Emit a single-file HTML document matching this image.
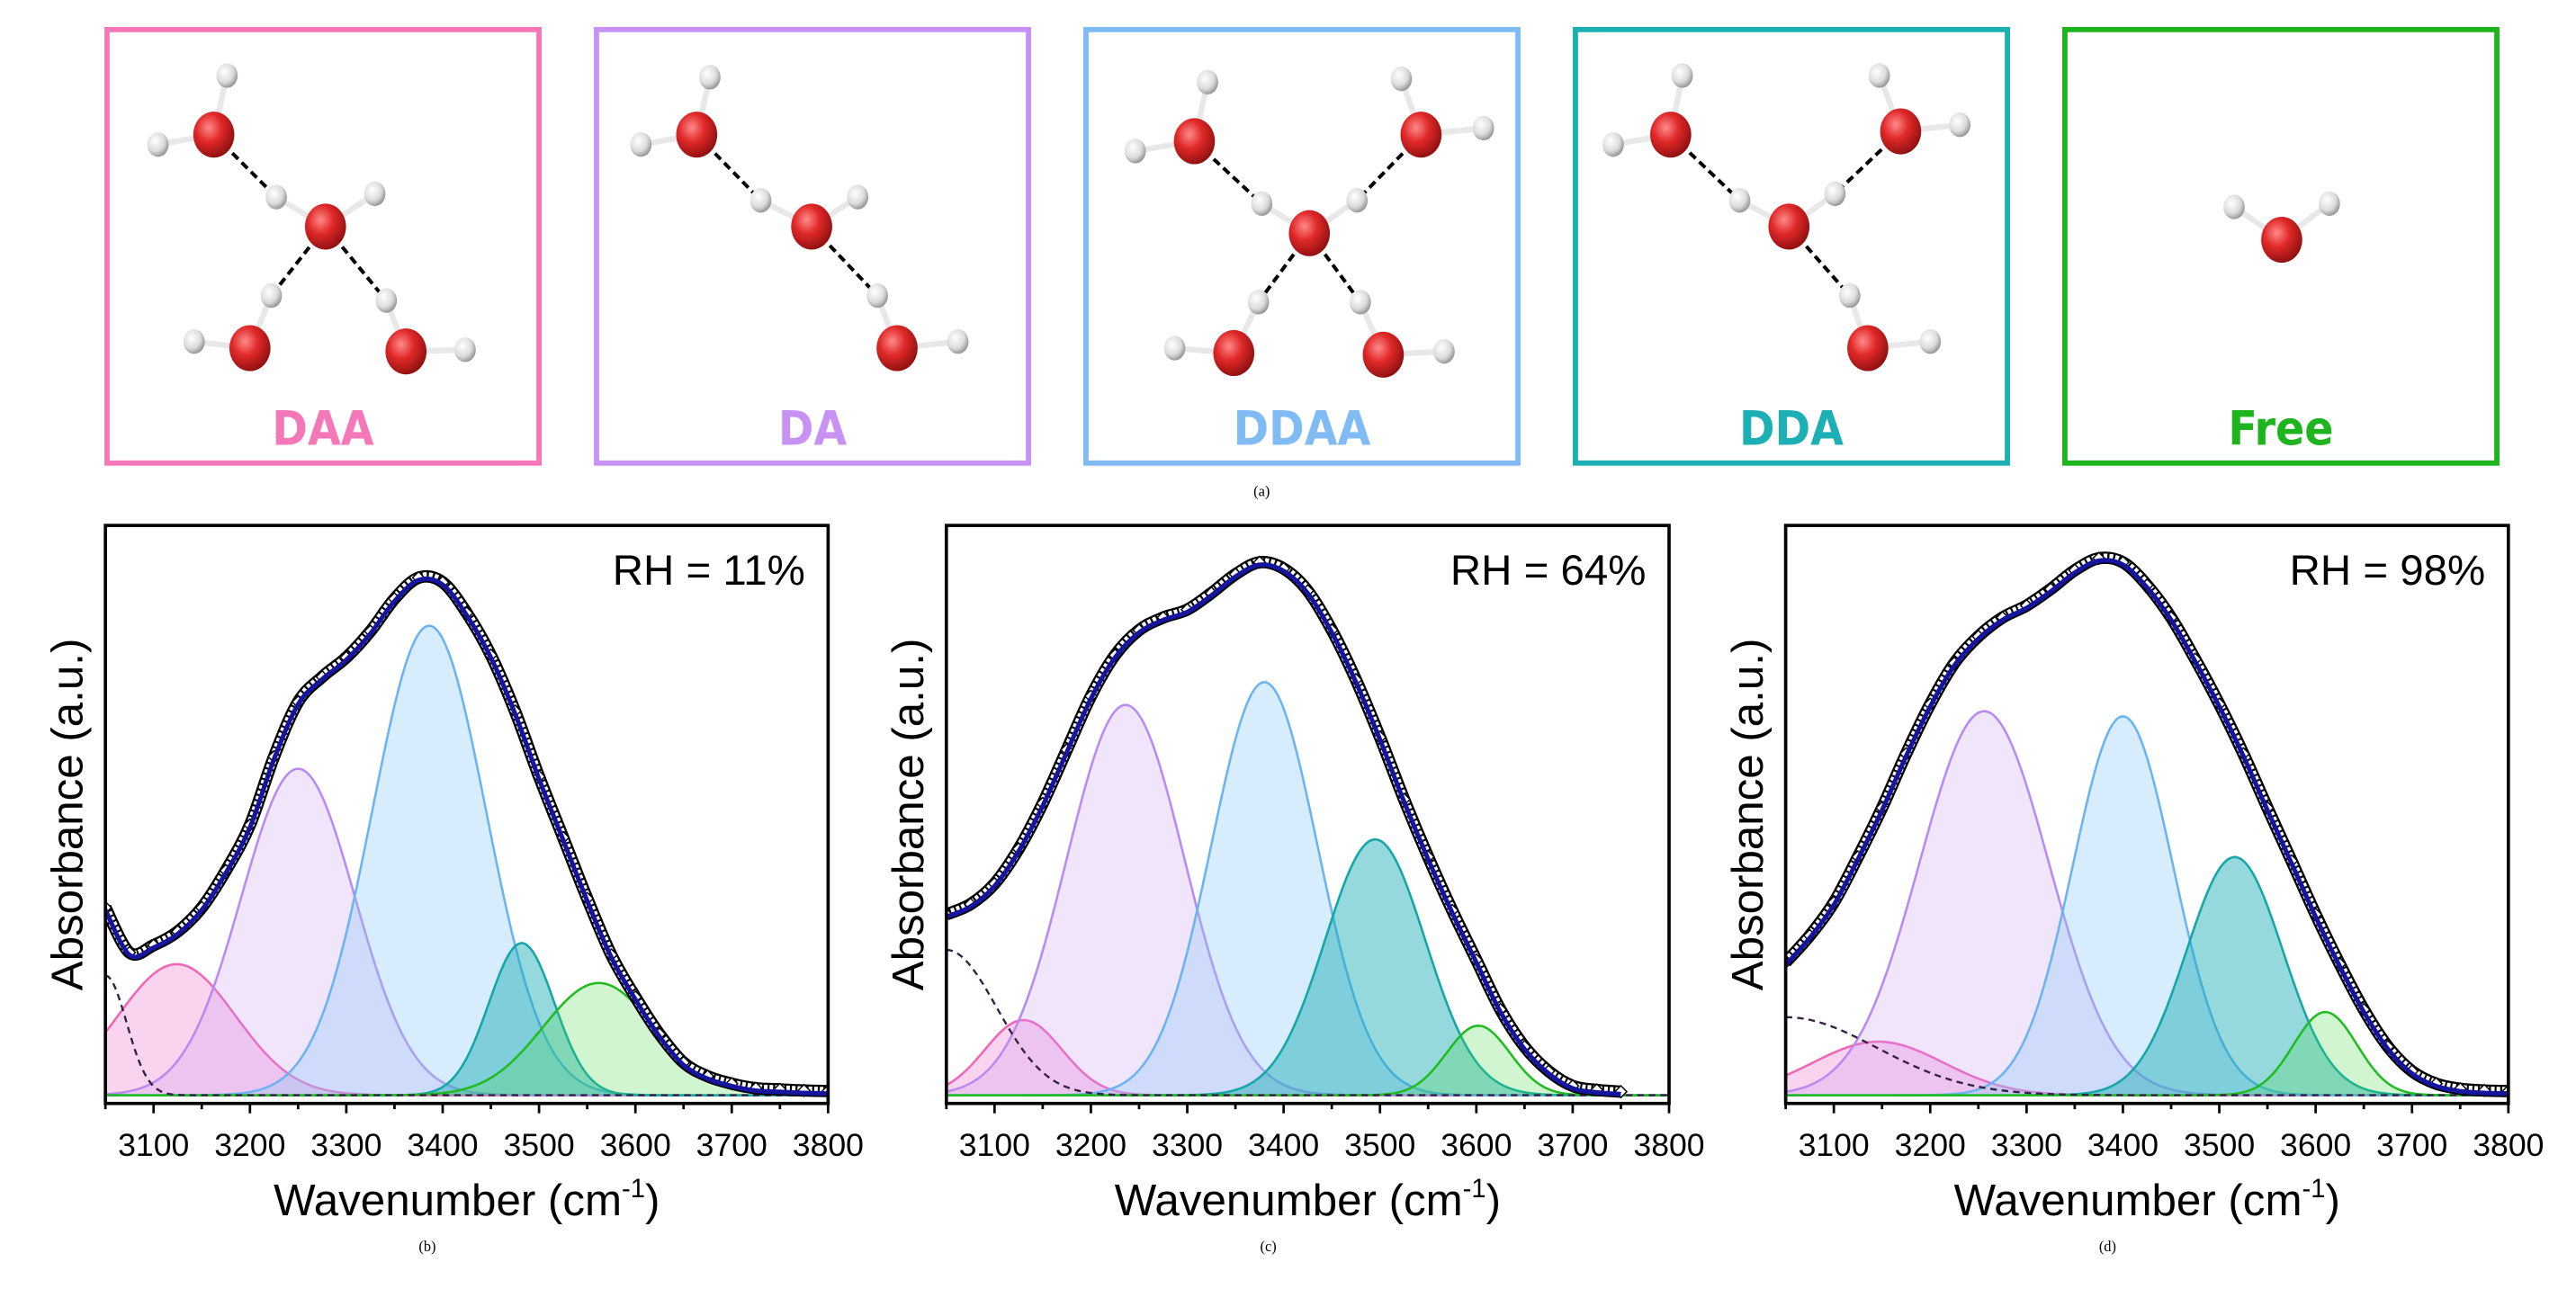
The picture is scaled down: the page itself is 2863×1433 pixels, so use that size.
<!DOCTYPE html>
<html><head><meta charset="utf-8"><style>
html,body{margin:0;padding:0;background:#fff}
svg{display:block}
text{font-family:"Liberation Sans",Arial,sans-serif}
</style></head><body>
<svg id="fig" width="2863" height="1433" viewBox="0 0 1568 785" xmlns="http://www.w3.org/2000/svg">
<defs>
<radialGradient id="gO" cx="0.38" cy="0.35" r="0.7"><stop offset="0" stop-color="#ff8a8a"/><stop offset="0.45" stop-color="#e02828"/><stop offset="1" stop-color="#8a0f0f"/></radialGradient>
<radialGradient id="gH" cx="0.38" cy="0.35" r="0.7"><stop offset="0" stop-color="#ffffff"/><stop offset="0.6" stop-color="#dcdcdc"/><stop offset="1" stop-color="#8c8c8c"/></radialGradient>
</defs>
<g id="topgroup"></g>
<text x="768" y="302" font-size="9" text-anchor="middle" style="font-family:'Liberation Serif',serif">(a)</text>
<g id="charts"></g>
</svg>
<script>
// ---------- Molecule panels ----------
const boxLabels = ["DAA","DA","DDAA","DDA","Free"];
const boxColors = ["#f477b8","#c892f5","#80bbf4","#1cb0b4","#1db41d"];
const boxLefts = [65,363,661,959,1257];
const molecules = [
 {O:[[130,82,[[138,46],[96,88]]],[198,138,[[168,120],[228,118]]],[152,212,[[165,180],[118,208]]],[247,214,[[235,183],[283,213]]]],
  D:[[130,82,168,120],[198,138,165,180],[198,138,235,183]]},
 {O:[[424,82,[[432,47],[390,88]]],[494,138,[[463,122],[522,120]]],[546,212,[[534,180],[583,208]]]],
  D:[[424,82,463,122],[494,138,534,180]]},
 {O:[[727,86,[[735,50],[691,92]]],[865,82,[[853,48],[903,78]]],[797,142,[[768,124],[826,122]]],[751,215,[[766,184],[715,212]]],[842,216,[[828,184],[879,214]]]],
  D:[[727,86,768,124],[865,82,826,122],[797,142,766,184],[797,142,828,184]]},
 {O:[[1017,82,[[1024,46],[982,88]]],[1157,80,[[1144,46],[1193,76]]],[1089,138,[[1059,122],[1117,118]]],[1137,212,[[1126,180],[1175,208]]]],
  D:[[1017,82,1059,122],[1157,80,1117,118],[1089,138,1126,180]]},
 {O:[[1389,146,[[1360,126],[1418,124]]]],D:[]}
];
const NS="http://www.w3.org/2000/svg";
function mk(tag,attrs,parent){const e=document.createElementNS(NS,tag);for(const k in attrs)e.setAttribute(k,attrs[k]);parent.appendChild(e);return e;}
const topG=document.getElementById('topgroup');
boxLabels.forEach((lab,i)=>{
  const g=mk('g',{},topG);
  
  
  const r=mk('rect',{x:boxLefts[i],y:18,width:263,height:264,fill:'none',stroke:boxColors[i],'stroke-width':3.2},g);
  
  
  const m=molecules[i];
  m.D.forEach(d=>{const l=mk('line',{x1:d[0],y1:d[1],x2:d[2],y2:d[3],stroke:'#000','stroke-width':2.2,'stroke-dasharray':'5,3'},g);
    
    });
  m.O.forEach(o=>{o[2].forEach(h=>{mk('line',{x1:o[0],y1:o[1],x2:h[0],y2:h[1],stroke:'#e8e8e8','stroke-width':3.5},g);});});
  m.O.forEach(o=>{
    o[2].forEach(h=>{const c=mk('ellipse',{cx:h[0],cy:h[1],rx:6.5,ry:7.5,fill:'url(#gH)'},g);
      
      });
    const c=mk('ellipse',{cx:o[0],cy:o[1],rx:12.5,ry:14,fill:'url(#gO)'},g);
    
    
  });
  const t=mk('text',{x:boxLefts[i]+131.5,y:271,'font-size':29,'font-weight':'bold','text-anchor':'middle',fill:boxColors[i],style:"font-family:'DejaVu Sans Condensed','DejaVu Sans',sans-serif;font-stretch:condensed"},g);
  t.textContent=lab;
  
  
});

// ---------- Spectra data ----------
const componentNames = ["DAA","DA","DDAA","DDA","Free"];
const strokeColors = ["#f066b8","#b98af0","#6cb4f0","#15a6a8","#22bb22"];
const fillColors = ["rgba(240,110,200,0.30)","rgba(200,150,245,0.25)","rgba(140,200,245,0.35)","rgba(20,170,180,0.45)","rgba(70,215,70,0.25)"];
const rhLabels = ["RH = 11%","RH = 64%","RH = 98%"];
const captions = ["(b)","(c)","(d)"];
// component peaks: centers (cm-1), heights, sigmas (cm-1)
const centersB = [3124,3250,3386,3482,3562];
const heightsB = [0.23,0.573,0.824,0.267,0.197];
const sigmasB  = [61,59,59,34,58];
const centersC = [3130,3236,3380,3495,3602];
const heightsC = [0.132,0.685,0.725,0.449,0.122];
const sigmasC  = [40,61,55,52,33];
const centersD = [3146,3256,3400,3516,3610];
const heightsD = [0.094,0.674,0.665,0.418,0.146];
const sigmasD  = [68,67,52,50,33];
// dashed background: amplitude at 3050 and gaussian width
const bgAmp = [0.21,0.255,0.137];
const bgWidth = [22,52,95];
// measured absorbance, sampled every 25 cm-1 from 3050
const absB = [0.325,0.246,0.259,0.283,0.325,0.39,0.47,0.59,0.686,0.73,0.764,0.81,0.867,0.904,0.896,0.842,0.768,0.67,0.555,0.448,0.341,0.242,0.168,0.103,0.053,0.029,0.016,0.008,0.006,0.004,0.003];
const absC = [0.313,0.331,0.367,0.428,0.508,0.602,0.696,0.768,0.812,0.834,0.848,0.877,0.91,0.931,0.92,0.881,0.812,0.725,0.624,0.515,0.414,0.32,0.233,0.146,0.081,0.038,0.012,0.005,0.002];
const absD = [0.229,0.276,0.334,0.414,0.5,0.595,0.682,0.754,0.801,0.834,0.855,0.884,0.917,0.938,0.931,0.891,0.834,0.761,0.682,0.595,0.5,0.407,0.313,0.226,0.146,0.081,0.038,0.016,0.007,0.004,0.003];
const absStep = 25;
const xTicks = [3100,3200,3300,3400,3500,3600,3700,3800];
const xMin=3050,xMax=3800,yMin=-0.0144,yMax=1.0;
const panelLefts=[64,576,1087];
const panels=[[centersB,heightsB,sigmasB,absB],[centersC,heightsC,sigmasC,absC],[centersD,heightsD,sigmasD,absD]];
const charts=document.getElementById('charts');
const PT=320,PB=672,PW=440;

function smoothPath(pts){
  let d='M'+pts[0][0].toFixed(2)+','+pts[0][1].toFixed(2);
  for(let i=0;i<pts.length-1;i++){
    const p0=pts[Math.max(0,i-1)],p1=pts[i],p2=pts[i+1],p3=pts[Math.min(pts.length-1,i+2)];
    const c1=[p1[0]+(p2[0]-p0[0])/6,p1[1]+(p2[1]-p0[1])/6];
    const c2=[p2[0]-(p3[0]-p1[0])/6,p2[1]-(p3[1]-p1[1])/6];
    d+=` C${c1[0].toFixed(2)},${c1[1].toFixed(2)} ${c2[0].toFixed(2)},${c2[1].toFixed(2)} ${p2[0].toFixed(2)},${p2[1].toFixed(2)}`;
  }
  return d;
}

panels.forEach((p,pi)=>{
  const L=panelLefts[pi];
  const X=v=>L+(v-xMin)/(xMax-xMin)*PW;
  const Y=v=>PB-(v-yMin)/(yMax-yMin)*(PB-PT);
  const g=mk('g',{},charts);
  
  
  const clipId='clip'+pi;
  const cp=mk('clipPath',{id:clipId},g);mk('rect',{x:L,y:PT,width:PW,height:PB-PT},cp);
  const inner=mk('g',{'clip-path':'url(#'+clipId+')'},g);
  const gauss=(k,x)=>p[1][k]*Math.exp(-0.5*Math.pow((x-p[0][k])/p[2][k],2));
  const bg=x=>bgAmp[pi]*Math.exp(-0.5*Math.pow((x-xMin)/bgWidth[pi],2));
  const xs=[];for(let x=xMin;x<=xMax;x+=2)xs.push(x);
  componentNames.forEach((n,k)=>{
    let d='M'+X(xMin)+','+Y(0);
    xs.forEach(x=>{d+=' L'+X(x).toFixed(2)+','+Y(gauss(k,x)).toFixed(2);});
    d+=' L'+X(xMax)+','+Y(0)+' Z';
    const f=mk('path',{d:d,fill:fillColors[k],stroke:'none'},inner);
    
    
    let d2='';xs.forEach((x,i)=>{d2+=(i?' L':'M')+X(x).toFixed(2)+','+Y(gauss(k,x)).toFixed(2);});
    const l=mk('path',{d:d2,fill:'none',stroke:strokeColors[k],'stroke-width':1.4},inner);
    
    
  });
  let db='';xs.forEach((x,i)=>{db+=(i?' L':'M')+X(x).toFixed(2)+','+Y(bg(x)).toFixed(2);});
  const bl=mk('path',{d:db,fill:'none',stroke:'#332244','stroke-width':1.3,'stroke-dasharray':'4,3'},inner);
  
  
  // measured data band (diamond chain look)
  const pts=p[3].map((v,i)=>[X(xMin+i*absStep),Y(v)]);
  const ptsUp=p[3].map((v,i)=>[X(xMin+i*absStep),Y(v)-1.5]);
  const dpath=smoothPath(ptsUp);
  const dg=mk('g',{},inner);
  
  
  mk('path',{d:dpath,fill:'none',stroke:'#000','stroke-width':7.5},dg);
  mk('path',{d:dpath,fill:'none',stroke:'#fff','stroke-width':5,'stroke-dasharray':'2.2,1.2'},dg);
  ptsUp.forEach(q=>{const s=3.6;
    mk('path',{d:`M${q[0]},${q[1]-s} L${q[0]+s},${q[1]} L${q[0]},${q[1]+s} L${q[0]-s},${q[1]} Z`,fill:'#fff',stroke:'#000','stroke-width':0.8},dg);});
  const fl=mk('path',{d:smoothPath(pts),fill:'none',stroke:'#1515a0','stroke-width':2.8},inner);
  
  
  const fr=mk('rect',{x:L,y:PT,width:PW,height:PB-PT,fill:'none',stroke:'#000','stroke-width':2},g);
  
  
  for(let v=xMin;v<=xMax;v+=50){
    const major=v%100===0;
    mk('line',{x1:X(v),y1:PB,x2:X(v),y2:PB+(major?6:3.5),stroke:'#000','stroke-width':1.5},g);
  }
  xTicks.forEach(v=>{
    const t=mk('text',{x:X(v),y:704,'font-size':19.5,'text-anchor':'middle'},g);
    t.textContent=v;
    
    
  });
  const xt=mk('text',{x:L+PW/2,y:740,'font-size':27,'text-anchor':'middle'},g);
  xt.innerHTML='Wavenumber (cm<tspan font-size="16" dy="-11">-1</tspan><tspan dy="11">)</tspan>';
  
  
  const yt=mk('text',{x:0,y:0,'font-size':27,'text-anchor':'middle',transform:`translate(${L-14},${(PT+PB)/2}) rotate(-90)`},g);
  yt.textContent='Absorbance (a.u.)';
  
  
  const rh=mk('text',{x:L+PW-14,y:356,'font-size':26,'text-anchor':'end'},g);
  rh.textContent=rhLabels[pi];
  
  
  const cap=mk('text',{x:L+PW/2-24,y:762,'font-size':9,'text-anchor':'middle',style:"font-family:'Liberation Serif',serif"},g);
  cap.textContent=captions[pi];
  
  
});
</script>
</body></html>
